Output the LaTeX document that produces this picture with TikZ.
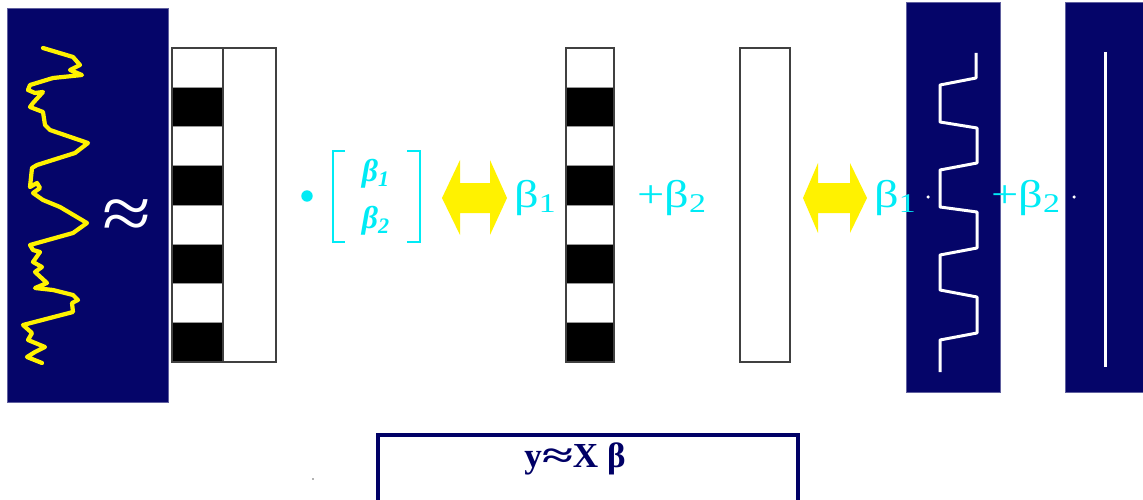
\documentclass[tikz,border=0pt]{standalone}
\usepackage{fontspec}
\setmainfont{Liberation Serif}
\usepackage{tikz}
\usetikzlibrary{positioning}

\definecolor{panelblue}{RGB}{5,5,105}
\definecolor{betacyan}{RGB}{0,235,245}
\definecolor{boxnavy}{RGB}{0,0,102}

\newcommand\coefterm[2]{\scalebox{1.25}[1]{#1β\textsubscript{#2}}}

\begin{document}
\begin{tikzpicture}[
  x=0.02cm, y=-0.02cm,
  panel/.style={fill=panelblue, draw=blue!25!gray, line width=0.5pt},
  column/.style={draw=black!75, line width=0.8pt},
  stripe/.style={fill=black},
  coef/.style={text=betacyan, font=\fontsize{22}{22}\selectfont, inner sep=0pt, anchor=base west},
  vecentry/.style={text=betacyan, font=\fontsize{18}{18}\selectfont\bfseries\itshape, inner sep=0pt},
  yarrow/.style={fill=yellow},
  trace/.style={line width=2.4pt, line join=round, line cap=round},
  smalldot/.style={circle, fill=white, inner sep=0pt, minimum size=2pt}
]
\clip (0,0) rectangle (1143,500);

% Signal panels
\fill[panel] (7,8) rectangle (168,402);
\fill[panel] (906,2) rectangle (1000,392);
\fill[panel] (1065,2) rectangle (1150,392);

% Measured signal
\draw[trace, yellow] (43,48) -- (73,57) -- (80,65) -- (70,70) -- (82,75) -- (53,78) -- (30,85)
  -- (28,90) -- (35,93) -- (43,92) -- (33,103) -- (30,107) -- (43,112) -- (45,125) -- (50,130)
  -- (88,143) -- (75,153) -- (37,165) -- (32,168) -- (30,187) -- (37,183) -- (40,188) -- (33,193)
  -- (43,200) -- (60,207) -- (87,223) -- (73,233) -- (30,245) -- (33,250) -- (40,252) -- (33,262)
  -- (42,267) -- (35,272) -- (47,283) -- (35,288) -- (53,290) -- (73,295) -- (78,300) -- (72,303)
  -- (73,312) -- (23,325) -- (32,333) -- (28,340) -- (45,347) -- (35,352) -- (27,357) -- (42,363);
\node[text=white, font=\fontsize{44}{44}\selectfont, inner sep=0pt] (approx) at (127,220) {\scalebox{1.15}[1]{≈}};

% Design matrix X
\foreach \k in {1,3,5,7} {
  \fill[stripe] (172,{48+\k*39.25}) rectangle (223,{48+(\k+1)*39.25});
  \fill[stripe] (566,{48+\k*39.25}) rectangle (614,{48+(\k+1)*39.25});
}
\foreach \k in {1,...,7} {
  \draw[black!40, line width=0.4pt] (172,{48+\k*39.25}) -- (223,{48+\k*39.25});
  \draw[black!40, line width=0.4pt] (566,{48+\k*39.25}) -- (614,{48+\k*39.25});
}
\draw[column] (172,48) rectangle (276,362);
\draw[column] (223,48) -- (223,362);
\draw[column] (566,48) rectangle (614,362);
\draw[column] (740,48) rectangle (790,362);

% Parameter vector
\node[circle, fill=betacyan, inner sep=0pt, minimum size=6.5pt] (dot) at (307,196) {};
\draw[betacyan, line width=0.8pt] (345,151) -- (333,151) -- (333,242) -- (345,242);
\draw[betacyan, line width=0.8pt] (407,151) -- (420,151) -- (420,242) -- (407,242);
\node[vecentry] (vec1) at (376,174) {β\textsubscript{1}};
\node[vecentry] (vec2) at (376,221) {β\textsubscript{2}};

% Equivalence arrows
\fill[yarrow] (442,198) -- (460,160) -- (460,183) -- (490,183) -- (490,160) -- (507,198)
  -- (490,235) -- (490,213) -- (460,213) -- (460,235) -- cycle;
\fill[yarrow] (803,198) -- (818,163) -- (818,183) -- (850,183) -- (850,163) -- (867,198)
  -- (850,233) -- (850,213) -- (818,213) -- (818,233) -- cycle;

% Regressors
\draw[trace, white, line width=1.7pt, line cap=butt] (976,53) -- (976,78) -- (940,85) -- (940,122)
  -- (977,128) -- (977,163) -- (940,170) -- (940,207) -- (977,212) -- (977,248) -- (940,255)
  -- (940,290) -- (977,297) -- (977,333) -- (940,340) -- (940,372);
\draw[white, line width=1.7pt] (1105,52) -- (1105,367);

% Coefficients
\node[coef] (beta1a) at (514,207) {\coefterm{}{1}};
\node[coef] (beta2a) at (637,207) {\coefterm{+}{2}};
\node[coef] (beta1b) at (874,207) {\coefterm{}{1}};
\node[coef] (beta2b) at (991,207) {\coefterm{+}{2}};
\node[smalldot] (times1) at (928,197) {};
\node[smalldot] (times2) at (1074,197) {};

% Model box
\draw[boxnavy, line width=2.2pt] (378,435) rectangle (798,520);
\node[text=boxnavy, font=\fontsize{20}{20}\selectfont\bfseries] (model) at (575,459) {y\scalebox{1.6}[1]{≈}X β};
\node[circle, fill=black!60, inner sep=0pt, minimum size=1pt] (speck) at (313,479) {};
\end{tikzpicture}
\end{document}
